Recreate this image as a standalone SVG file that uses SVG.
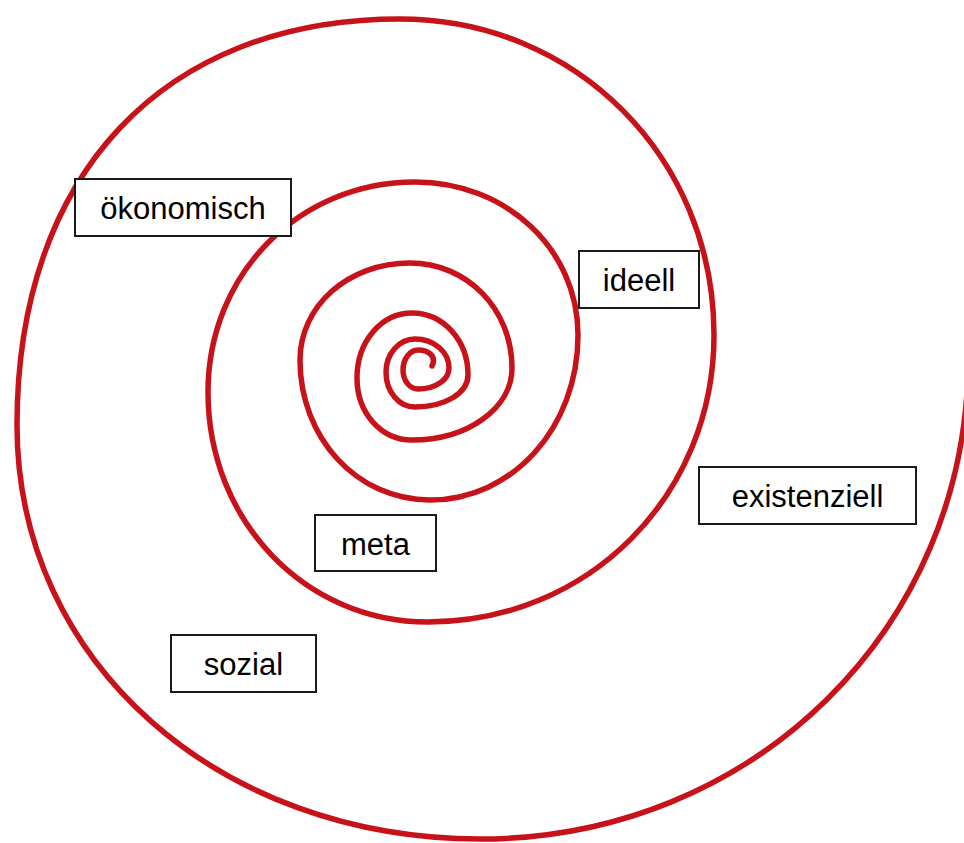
<svg xmlns="http://www.w3.org/2000/svg" width="964" height="843" viewBox="0 0 964 843">
<style>
.sp{fill:none;stroke:#c8121a;stroke-width:5.5;stroke-linecap:round;stroke-linejoin:round}
.box{fill:#fff;stroke:#1a1a1a;stroke-width:2}
.lbl{font-family:"Liberation Sans",Arial,sans-serif;font-size:31px;fill:#000;text-anchor:middle}
</style>
<rect width="964" height="843" fill="#fff"/>
<g id="connectors">
<path id="spiral" class="sp" d="M968,360 C968,628 753,839 480,839 C221,839 17,664 17,425 C17,175 163,19 400,19 C576,19 714,158 714,335 C714,496 588,622 428,622 C305,622 208,521 208,392 C208,274 299,182 415,182 C506,182 578,249 578,335 C578,427 513,500 430,500 C357,500 300,438 300,360 C300,306 348,263 410,263 C467,263 512,309 512,368 C512,408 468,440 412,440 C381,440 357,413 357,378 C357,342 381,313 412,313 C443,313 468,340 468,375 C468,393 445,407 415,407 C399,407 386,392 386,372 C386,354 399,339 415,339 C434,339 449,352 449,368 C449,380 435,389 418,389 C410,389 403,381 403,370 C403,359 410,350 418,350 C428,350 437,356 432,366"/>
</g>
<g id="node-oekonomisch"><rect class="box" x="75" y="179" width="216" height="57"/><text class="lbl" x="183" y="219">ökonomisch</text></g>
<g id="node-ideell"><rect class="box" x="579" y="251" width="120" height="57"/><text class="lbl" x="639" y="291">ideell</text></g>
<g id="node-existenziell"><rect class="box" x="699" y="467" width="217" height="57"/><text class="lbl" x="807.5" y="507">existenziell</text></g>
<g id="node-meta"><rect class="box" x="315" y="515" width="121" height="56"/><text class="lbl" x="375.5" y="555">meta</text></g>
<g id="node-sozial"><rect class="box" x="171" y="635" width="145" height="57"/><text class="lbl" x="243.5" y="675">sozial</text></g>
</svg>
